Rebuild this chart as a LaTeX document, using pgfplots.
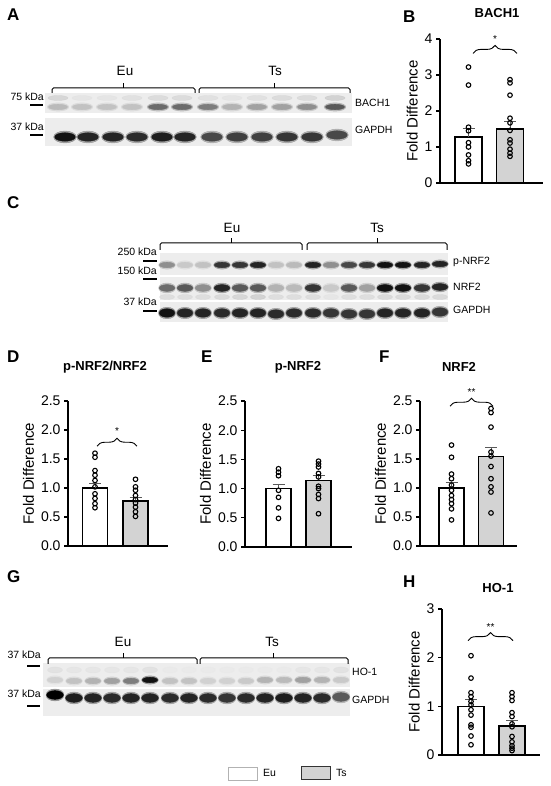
\documentclass[border=0pt]{standalone}
\usepackage{pgfplots}
\usepackage{pgfplotstable}
\pgfplotsset{compat=1.18}
\usepackage{fontspec}
\setmainfont{Liberation Sans}
\usetikzlibrary{decorations.pathreplacing}
\definecolor{tsgray}{HTML}{D3D3D3}
\definecolor{strip}{HTML}{EDEDED}
\newcommand\fs[1]{\fontsize{#1}{#1}\selectfont}
\tikzset{sig/.style={decorate, decoration={brace, amplitude=8pt}, line width=0.9pt}}
\pgfplotsset{
 barax/.style={scale only axis, axis x line=bottom, axis y line=left,
   axis line style={-, line width=1.2pt}, xtick=\empty, xmin=0, ymin=0, clip=false,
   tick align=outside, major tick length=4pt, ytick style={line width=1.2pt, black},
   tick label style={font=\fs{14}}, ylabel={Fold Difference},
   ylabel style={font=\fs{15}}, /pgf/number format/assume math mode=true},
 onedec/.style={yticklabel style={/pgf/number format/.cd, fixed, fixed zerofill, precision=1}},
 eubar/.style={ybar, bar shift=0pt, fill=white, draw=black, line width=1.6pt,
   error bars/y dir=plus, error bars/y explicit,
   error bars/error bar style={line width=0.8pt, gray!70!black},
   error bars/error mark options={rotate=90, mark size=6pt, line width=0.8pt, gray!70!black}},
 tsbar/.style={eubar, fill=tsgray},
 pts/.style={only marks, mark=o, mark size=2.3pt, mark options={line width=1.1pt, black, fill=white}},
 band/.style={scatter, only marks, scatter src=explicit, mark=*,
   scatter/use mapped color={draw=mapped color, fill=mapped color}},
 brk/.style={line width=1pt, black, rounded corners=1.5pt},
 mk/.style={line width=2pt, black},
}
% ---- blot band intensities (x = lane centre, y = band height, c = darkness) ----
\pgfplotstableread{
x y c
58 679 0.45
82 679 0.4
107 679 0.4
132 679 0.4
158 679 0.7
182 679 0.7
208 679 0.65
232 679 0.5
257 679 0.55
282 679 0.55
307 679 0.6
335 679 0.75
}\bachA
\pgfplotstableread{
x y c
58 688 0.35
82 688 0.2
107 688 0.2
132 688 0.25
158 688 0.3
182 688 0.3
208 688 0.25
232 688 0.2
257 688 0.25
282 688 0.3
307 688 0.3
335 688 0.4
}\bachB
\pgfplotstableread{
x y c
65 649 0.95
88 649 0.9
113 649 0.9
137 649 0.88
162 649 0.92
185 649 0.9
212 649 0.8
237 649 0.82
262 649 0.82
287 649 0.85
312 649 0.85
337 651 0.8
}\gapA
\pgfplotstableread{
x y c
167 521 0.6
185 521 0.35
203 521 0.4
222 521 0.85
240 521 0.85
258 521 0.9
276 521 0.4
294 521 0.45
313 521 0.9
331 521 0.6
349 521 0.8
367 521 0.85
385 521 0.95
403 521 0.95
422 521 0.9
440 522 0.9
}\pnrf
\pgfplotstableread{
x y c
167 489 0.3
185 489 0.3
203 489 0.3
222 489 0.35
240 489 0.4
258 489 0.45
276 489 0.3
294 489 0.3
313 489 0.3
331 489 0.2
349 489 0.3
367 489 0.3
385 489 0.35
403 489 0.35
422 489 0.35
440 489 0.35
}\nrflow
\pgfplotstableread{
x y c
167 498 0.7
185 498 0.75
203 498 0.6
222 498 0.9
240 498 0.75
258 498 0.75
276 498 0.5
294 498 0.45
313 498 0.85
331 498 0.35
349 498 0.75
367 498 0.55
385 498 0.95
403 498 0.95
422 498 0.85
440 499 0.9
}\nrf
\pgfplotstableread{
x y c
167 473 0.95
185 473 0.9
203 473 0.9
222 473 0.88
240 473 0.9
258 473 0.9
276 472 0.88
294 473 0.88
313 473 0.88
331 473 0.85
349 472 0.85
367 472 0.85
385 473 0.9
403 473 0.9
422 473 0.9
440 474 0.85
}\gapC
\pgfplotstableread{
x y c
55 116 0.25
74 116 0.2
93 116 0.2
112 116 0.2
131 116 0.2
150 116 0.25
170 116 0.15
189 116 0.15
208 116 0.15
227 116 0.15
246 116 0.15
265 116 0.15
284 116 0.15
303 116 0.2
322 116 0.2
341 116 0.25
}\houp
\pgfplotstableread{
x y c
55 106 0.3
74 105 0.4
93 105 0.5
112 105 0.55
131 105 0.65
150 106 0.95
170 105 0.4
189 105 0.4
208 105 0.3
227 105 0.3
246 105 0.35
265 106 0.5
284 106 0.45
303 106 0.55
322 106 0.5
341 106 0.35
}\ho
\pgfplotstableread{
x y c
55 91 1.0
74 88 0.92
93 88 0.9
112 88 0.88
131 88 0.9
150 88 0.9
170 88 0.88
189 88 0.9
208 88 0.88
227 88 0.85
246 88 0.88
265 88 0.9
284 88 0.92
303 88 0.9
322 88 0.88
341 89 0.75
}\gapG
\begin{document}
\begin{tikzpicture}
\useasboundingbox (0pt,0pt) rectangle (550pt,786pt);
% ---------------- canvas axis for blots and labels ----------------
\begin{axis}[at={(0pt,0pt)}, anchor=south west, scale only axis, width=550pt, height=786pt,
  xmin=0, xmax=550, ymin=0, ymax=786, hide axis, clip=false,
  colormap={blot}{color=(white) color=(gray!60) color=(black)}, point meta min=0, point meta max=1]
% ===== Panel A =====
\addplot[fill=strip, draw=none] coordinates {(45,693) (352,693) (352,673) (45,673)} -- cycle;
\addplot[fill=strip, draw=none] coordinates {(45,668) (352,668) (352,640) (45,640)} -- cycle;
\addplot[band, mark size=2.5pt, mark options={xscale=4}, opacity=0.6] table[meta=c] {\bachB};
\addplot[band, mark size=4.2pt, mark options={xscale=2.6}, opacity=0.3] table[meta=c] {\bachA};
\addplot[band, mark size=2.8pt, mark options={xscale=3.4}] table[meta=c] {\bachA};
\addplot[band, mark size=6pt, mark options={xscale=1.9}, opacity=0.3] table[meta=c] {\gapA};
\addplot[band, mark size=4.3pt, mark options={xscale=2.4}] table[meta=c] {\gapA};
\addplot[brk] coordinates {(52,693) (52,698) (195,698) (195,693)};
\addplot[brk] coordinates {(123.5,698) (123.5,703)};
\addplot[brk] coordinates {(199,693) (199,698) (350,698) (350,693)};
\addplot[brk] coordinates {(274.5,698) (274.5,703)};
\node[font=\fs{13.5}] at (axis cs:125,715) {Eu};
\node[font=\fs{13.5}] at (axis cs:275,715) {Ts};
\addplot[mk] coordinates {(30,681) (43,681)};
\addplot[mk] coordinates {(30,651) (43,651)};
\node[anchor=east, font=\fs{10.5}, inner sep=0pt] at (axis cs:44,689) {75 kDa};
\node[anchor=east, font=\fs{10.5}, inner sep=0pt] at (axis cs:44,659) {37 kDa};
\node[anchor=west, font=\fs{10.5}, inner sep=0pt] at (axis cs:355,683) {BACH1};
\node[anchor=west, font=\fs{10.5}, inner sep=0pt] at (axis cs:355,656) {GAPDH};
% ===== Panel C =====
\addplot[fill=strip, draw=none] coordinates {(160,533) (448,533) (448,511) (160,511)} -- cycle;
\addplot[fill=strip, draw=none] coordinates {(160,509) (448,509) (448,486) (160,486)} -- cycle;
\addplot[fill=strip, draw=none] coordinates {(160,484) (448,484) (448,464) (160,464)} -- cycle;
\addplot[band, mark size=4.2pt, mark options={xscale=2}, opacity=0.3] table[meta=c] {\pnrf};
\addplot[band, mark size=2.8pt, mark options={xscale=2.7}] table[meta=c] {\pnrf};
\addplot[band, mark size=2.5pt, mark options={xscale=3}, opacity=0.5] table[meta=c] {\nrflow};
\addplot[band, mark size=5pt, mark options={xscale=1.7}, opacity=0.3] table[meta=c] {\nrf};
\addplot[band, mark size=3.4pt, mark options={xscale=2.3}] table[meta=c] {\nrf};
\addplot[band, mark size=5.8pt, mark options={xscale=1.5}, opacity=0.3] table[meta=c] {\gapC};
\addplot[band, mark size=4.3pt, mark options={xscale=1.8}] table[meta=c] {\gapC};
\addplot[brk] coordinates {(160,536) (160,543) (302,543) (302,536)};
\addplot[brk] coordinates {(231,543) (231,548)};
\addplot[brk] coordinates {(307,536) (307,543) (447,543) (447,536)};
\addplot[brk] coordinates {(377,543) (377,548)};
\node[font=\fs{13.5}] at (axis cs:232,558) {Eu};
\node[font=\fs{13.5}] at (axis cs:377,558) {Ts};
\addplot[mk] coordinates {(143,525) (157,525)};
\addplot[mk] coordinates {(143,507) (157,507)};
\addplot[mk] coordinates {(143,475) (157,475)};
\node[anchor=east, font=\fs{10.5}, inner sep=0pt] at (axis cs:157,534) {250 kDa};
\node[anchor=east, font=\fs{10.5}, inner sep=0pt] at (axis cs:157,515) {150 kDa};
\node[anchor=east, font=\fs{10.5}, inner sep=0pt] at (axis cs:157,484) {37 kDa};
\node[anchor=west, font=\fs{10.5}, inner sep=0pt] at (axis cs:453,524) {p-NRF2};
\node[anchor=west, font=\fs{10.5}, inner sep=0pt] at (axis cs:453,499) {NRF2};
\node[anchor=west, font=\fs{10.5}, inner sep=0pt] at (axis cs:453,476) {GAPDH};
% ===== Panel G =====
\addplot[fill=strip, draw=none] coordinates {(43,123) (350,123) (350,99) (43,99)} -- cycle;
\addplot[fill=strip, draw=none] coordinates {(43,97) (350,97) (350,70) (43,70)} -- cycle;
\addplot[band, mark size=3pt, mark options={xscale=2.5}, opacity=0.5] table[meta=c] {\houp};
\addplot[band, mark size=4.2pt, mark options={xscale=2}, opacity=0.3] table[meta=c] {\ho};
\addplot[band, mark size=2.8pt, mark options={xscale=2.7}] table[meta=c] {\ho};
\addplot[band, mark size=6pt, mark options={xscale=1.5}, opacity=0.3] table[meta=c] {\gapG};
\addplot[band, mark size=4.4pt, mark options={xscale=1.9}] table[meta=c] {\gapG};
\addplot[brk] coordinates {(48,122) (48,128) (197,128) (197,122)};
\addplot[brk] coordinates {(123,128) (123,133)};
\addplot[brk] coordinates {(200,122) (200,128) (348,128) (348,122)};
\addplot[brk] coordinates {(273,128) (273,133)};
\node[font=\fs{13.5}] at (axis cs:123,144) {Eu};
\node[font=\fs{13.5}] at (axis cs:272,144) {Ts};
\addplot[mk] coordinates {(27,120) (40,120)};
\addplot[mk] coordinates {(27,80) (40,80)};
\node[anchor=east, font=\fs{10.5}, inner sep=0pt] at (axis cs:41,131) {37 kDa};
\node[anchor=east, font=\fs{10.5}, inner sep=0pt] at (axis cs:41,92) {37 kDa};
\node[anchor=west, font=\fs{10.5}, inner sep=0pt] at (axis cs:352,114) {HO-1};
\node[anchor=west, font=\fs{10.5}, inner sep=0pt] at (axis cs:352,86) {GAPDH};
% ===== legend =====
\addplot[fill=white, draw=gray!60, line width=0.8pt] coordinates {(228,19) (257,19) (257,6) (228,6)} -- cycle;
\addplot[fill=tsgray, draw=black!80, line width=1pt] coordinates {(301,19) (330,19) (330,6) (301,6)} -- cycle;
\node[anchor=west, font=\fs{10.5}, inner sep=0pt] at (axis cs:263,13) {Eu};
\node[anchor=west, font=\fs{10.5}, inner sep=0pt] at (axis cs:336,13) {Ts};
% ===== panel letters and titles =====
\node[anchor=west, font=\bfseries\fs{17}, inner sep=0pt] at (axis cs:7,771) {A};
\node[anchor=west, font=\bfseries\fs{17}, inner sep=0pt] at (axis cs:403,769) {B};
\node[anchor=west, font=\bfseries\fs{17}, inner sep=0pt] at (axis cs:7,583) {C};
\node[anchor=west, font=\bfseries\fs{17}, inner sep=0pt] at (axis cs:7,429) {D};
\node[anchor=west, font=\bfseries\fs{17}, inner sep=0pt] at (axis cs:201,429) {E};
\node[anchor=west, font=\bfseries\fs{17}, inner sep=0pt] at (axis cs:379,429) {F};
\node[anchor=west, font=\bfseries\fs{17}, inner sep=0pt] at (axis cs:7,209) {G};
\node[anchor=west, font=\bfseries\fs{17}, inner sep=0pt] at (axis cs:403,204) {H};
\node[font=\bfseries\fs{13}] at (axis cs:497,773) {BACH1};
\node[font=\bfseries\fs{13}] at (axis cs:105,419) {p-NRF2/NRF2};
\node[font=\bfseries\fs{13}] at (axis cs:298,419) {p-NRF2};
\node[font=\bfseries\fs{13}] at (axis cs:459,419) {NRF2};
\node[font=\bfseries\fs{13}] at (axis cs:498,198) {HO-1};
\end{axis}
% ---------------- Panel B ----------------
\begin{axis}[barax, at={(440pt,603pt)}, anchor=south west, width=103pt, height=144pt,
  xmax=103, ymax=4, ytick={0,1,2,3,4}]
\addplot[bar width=27pt, eubar] coordinates {(28.5,1.28) +- (0,0.25)};
\addplot[bar width=27pt, tsbar] coordinates {(70,1.5) +- (0,0.22)};
\addplot[pts] coordinates {(28.5,3.22) (28.5,2.72) (28.5,1.55) (28.5,1.45) (28.5,1.12) (28.5,1.0) (28.5,0.78) (28.5,0.62) (28.5,0.53)};
\addplot[pts] coordinates {(70,2.87) (70,2.78) (70,2.44) (70,1.8) (70,1.67) (70,1.46) (70,1.2) (70,1.11) (70,0.94) (70,0.83) (70,0.74)};
\draw[sig] (axis cs:33,3.6) -- (axis cs:77,3.6);
\node[font=\fs{10}, inner sep=0pt] at (axis cs:55,4.0) {*};
\end{axis}
% ---------------- Panel D ----------------
\begin{axis}[barax, onedec, at={(68pt,240pt)}, anchor=south west, width=100pt, height=145pt,
  xmax=100, ymax=2.5, ytick={0,0.5,1,1.5,2,2.5}]
\addplot[bar width=25pt, eubar] coordinates {(27,1.0) +- (0,0.08)};
\addplot[bar width=25pt, tsbar] coordinates {(67.5,0.78) +- (0,0.05)};
\addplot[pts] coordinates {(27,1.60) (27,1.53) (27,1.30) (27,1.22) (27,1.13) (27,1.02) (27,0.90) (27,0.82) (27,0.73) (27,0.66)};
\addplot[pts] coordinates {(67.5,1.15) (67.5,1.02) (67.5,0.96) (67.5,0.87) (67.5,0.80) (67.5,0.74) (67.5,0.67) (67.5,0.59) (67.5,0.51)};
\draw[sig] (axis cs:29,1.72) -- (axis cs:69,1.72);
\node[font=\fs{10}, inner sep=0pt] at (axis cs:49,1.98) {*};
\end{axis}
% ---------------- Panel E ----------------
\begin{axis}[barax, onedec, at={(245pt,239pt)}, anchor=south west, width=107pt, height=146pt,
  xmax=107, ymax=2.5, ytick={0,0.5,1,1.5,2,2.5}]
\addplot[bar width=25pt, eubar] coordinates {(33.5,1.0) +- (0,0.08)};
\addplot[bar width=25pt, tsbar] coordinates {(73.5,1.14) +- (0,0.08)};
\addplot[pts] coordinates {(33.5,1.34) (33.5,1.28) (33.5,1.22) (33.5,0.97) (33.5,0.85) (33.5,0.67) (33.5,0.49)};
\addplot[pts] coordinates {(73.5,1.47) (73.5,1.42) (73.5,1.37) (73.5,1.26) (73.5,1.20) (73.5,1.04) (73.5,1.0) (73.5,0.9) (73.5,0.83) (73.5,0.57)};
\end{axis}
% ---------------- Panel F ----------------
\begin{axis}[barax, onedec, at={(420pt,240pt)}, anchor=south west, width=97pt, height=145pt,
  xmax=97, ymax=2.5, ytick={0,0.5,1,1.5,2,2.5}]
\addplot[bar width=25pt, eubar] coordinates {(31.5,1.0) +- (0,0.1)};
\addplot[bar width=25pt, tsbar] coordinates {(71,1.54) +- (0,0.16)};
\addplot[pts] coordinates {(31.5,1.74) (31.5,1.53) (31.5,1.24) (31.5,1.16) (31.5,1.05) (31.5,0.96) (31.5,0.87) (31.5,0.80) (31.5,0.73) (31.5,0.64) (31.5,0.45)};
\addplot[pts] coordinates {(71,2.37) (71,2.30) (71,2.05) (71,1.62) (71,1.55) (71,1.37) (71,1.16) (71,1.02) (71,0.93) (71,0.57)};
\draw[sig] (axis cs:30,2.41) -- (axis cs:73,2.41);
\node[font=\fs{10}, inner sep=0pt] at (axis cs:51.5,2.66) {**};
\end{axis}
% ---------------- Panel H ----------------
\begin{axis}[barax, at={(442pt,31pt)}, anchor=south west, width=98pt, height=146pt,
  xmax=98, ymax=3, ytick={0,1,2,3}]
\addplot[bar width=26pt, eubar] coordinates {(29,1.0) +- (0,0.14)};
\addplot[bar width=26pt, tsbar] coordinates {(70,0.6) +- (0,0.12)};
\addplot[pts] coordinates {(29,2.04) (29,1.58) (29,1.28) (29,1.20) (29,1.10) (29,1.03) (29,0.93) (29,0.82) (29,0.62) (29,0.57) (29,0.39) (29,0.21)};
\addplot[pts] coordinates {(70,1.28) (70,1.20) (70,1.12) (70,0.87) (70,0.79) (70,0.64) (70,0.58) (70,0.38) (70,0.27) (70,0.19) (70,0.14) (70,0.09)};
\draw[sig] (axis cs:26,2.35) -- (axis cs:71,2.35);
\node[font=\fs{10}, inner sep=0pt] at (axis cs:48.5,2.62) {**};
\end{axis}
\end{tikzpicture}
\end{document}
